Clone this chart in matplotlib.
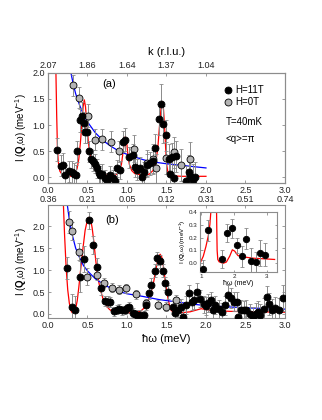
import matplotlib
matplotlib.use("Agg")
import matplotlib.pyplot as plt
from matplotlib.lines import Line2D

plt.rcParams["font.family"] = ["Liberation Sans", "DejaVu Sans"]
plt.rcParams["mathtext.fontset"] = "custom"
plt.rcParams["mathtext.rm"] = "Liberation Sans"
plt.rcParams["mathtext.bf"] = "Liberation Sans:bold"
plt.rcParams["axes.edgecolor"] = "#8c8c8c"
plt.rcParams["axes.linewidth"] = 0.8

# ---------- panel (a) ----------
a11_x = [0.12, 0.16, 0.19, 0.22, 0.27, 0.30, 0.33, 0.35, 0.37, 0.40, 0.43, 0.45, 0.47, 0.50,
         0.52, 0.55, 0.57, 0.60, 0.62, 0.64, 0.66, 0.69, 0.72, 0.75, 0.79, 0.82, 0.85, 0.88,
         0.91, 0.95, 0.98, 1.03, 1.07, 1.10, 1.13, 1.16, 1.19, 1.22, 1.25, 1.29, 1.33, 1.36,
         1.40, 1.43, 1.46, 1.49, 1.53, 1.54, 1.57, 1.59, 1.62, 1.75, 1.79, 1.80, 1.83, 1.86]
a11_y = [0.53, 0.22, 0.24, 0.04, 0.12, 0.10, 0.07, 0.05, 0.50, 1.09, 1.18, 1.03, 0.87, 0.87,
         0.50, 0.36, 0.32, 0.26, 0.17, 0.08, 0.04, 0.07, -0.02, -0.07, 0.04, -0.02, -0.07, 0.17,
         0.14, 0.68, 0.72, 0.38, 0.42, 0.20, 0.15, 0.18, 0.00, 0.10, 0.23, 0.27, 0.31, 0.57,
         1.11, 1.40, 1.01, 0.80, 0.36, 0.06, 0.38, -0.02, 0.40, -0.07, 0.10, 0.02, -0.05, 0.01]
a11_e = [0.22, 0.20, 0.22, 0.20, 0.20, 0.22, 0.20, 0.18, 0.20, 0.22, 0.25, 0.22, 0.22, 0.22,
         0.20, 0.18, 0.20, 0.18, 0.18, 0.18, 0.17, 0.18, 0.16, 0.16, 0.17, 0.16, 0.16, 0.17,
         0.18, 0.20, 0.22, 0.20, 0.22, 0.20, 0.20, 0.20, 0.18, 0.20, 0.22, 0.22, 0.22, 0.25,
         0.30, 0.38, 0.35, 0.30, 0.28, 0.25, 0.28, 0.25, 0.30, 0.28, 0.32, 0.30, 0.30, 0.28]

a0_x = [0.32, 0.39, 0.51, 0.60, 0.69, 0.80, 0.90, 1.09, 1.25, 1.33, 1.37, 1.50, 1.59, 1.69, 1.80]
a0_y = [1.76, 1.52, 1.18, 0.72, 0.73, 0.68, 0.50, 0.55, 0.27, 0.35, 0.17, 0.37, 0.48, 0.24, 0.36]
a0_e = [0.20, 0.20, 0.22, 0.20, 0.20, 0.20, 0.20, 0.25, 0.25, 0.28, 0.28, 0.30, 0.30, 0.30, 0.32]

a_red_x = [0.100, 0.110, 0.120, 0.130, 0.150, 0.180, 0.230, 0.280, 0.320, 0.350, 0.370, 0.390,
           0.410, 0.430, 0.445, 0.460, 0.475, 0.490, 0.510, 0.530, 0.560, 0.600, 0.650, 0.700,
           0.800, 0.860, 0.900, 0.930, 0.950, 0.970, 0.980, 0.995, 1.010, 1.030, 1.060, 1.100,
           1.200, 1.280, 1.330, 1.360, 1.390, 1.410, 1.430, 1.445, 1.460, 1.475, 1.490, 1.505,
           1.520, 1.550, 1.700, 2.000]
a_red_y = [2.05, 1.20, 0.55, 0.30, 0.12, 0.05, 0.03, 0.02, 0.04, 0.09, 0.18, 0.35,
           0.65, 1.05, 1.35, 1.48, 1.35, 1.05, 0.70, 0.45, 0.27, 0.15, 0.08, 0.05,
           0.03, 0.05, 0.10, 0.25, 0.48, 0.72, 0.78, 0.70, 0.45, 0.25, 0.13, 0.07,
           0.04, 0.06, 0.13, 0.25, 0.55, 0.95, 1.30, 1.45, 1.35, 1.00, 0.55, 0.22,
           0.08, 0.03, 0.02, 0.02]

a_blue_x = [0.29, 0.32, 0.35, 0.40, 0.45, 0.50, 0.60, 0.70, 0.80, 0.90, 1.00, 1.10, 1.20,
            1.30, 1.50, 1.75, 2.00]
a_blue_y = [2.00, 1.78, 1.60, 1.38, 1.20, 1.06, 0.85, 0.70, 0.59, 0.50, 0.44, 0.39, 0.34,
            0.30, 0.26, 0.22, 0.18]

# ---------- panel (b) ----------
b11_x = [0.24, 0.30, 0.34, 0.40, 0.46, 0.52, 0.57, 0.62, 0.67, 0.72, 0.76, 0.78, 0.83, 0.87,
         0.90, 0.94, 0.97, 1.00, 1.02, 1.07, 1.10, 1.13, 1.17, 1.21, 1.24, 1.28, 1.31, 1.35,
         1.38, 1.42, 1.46, 1.48, 1.52, 1.58, 1.61, 1.65, 1.69, 1.71, 1.75, 1.79, 1.82, 1.85,
         1.89, 1.92, 1.97, 2.00, 2.03, 2.06, 2.09, 2.11, 2.16, 2.20, 2.24, 2.28, 2.32, 2.35,
         2.39, 2.41, 2.44, 2.48, 2.51, 2.56, 2.59, 2.63, 2.66, 2.69, 2.74, 2.77, 2.80, 2.84,
         2.87, 2.92, 2.98]
b11_y = [1.04, 0.16, 0.10, 0.85, 1.25, 2.13, 1.57, 1.08, 0.58, 0.30, 0.28, 0.27, 0.06, 0.10,
         0.12, 0.08, 0.09, 0.13, 0.17, 0.03, 0.00, -0.02, -0.02, -0.03, 0.20, 0.48, 0.66, 0.98,
         1.27, 1.20, 0.98, 0.70, 0.50, 0.15, 0.02, 0.09, 0.15, -0.06, 0.20, 0.47, 0.28, 0.31,
         0.51, 0.35, 0.22, 0.18, 0.25, 0.31, 0.08, 0.20, 0.12, 0.05, 0.20, 0.43, 0.36, 0.28,
         0.28, -0.06, 0.10, 0.08, 0.09, 0.00, -0.06, 0.00, 0.05, -0.02, 0.12, 0.39, 0.23, 0.10,
         0.14, 0.09, 0.36]
b11_e = [0.25, 0.30, 0.30, 0.35, 0.30, 0.20, 0.20, 0.20, 0.15, 0.12, 0.12, 0.12, 0.10, 0.10,
         0.10, 0.10, 0.10, 0.10, 0.10, 0.10, 0.10, 0.10, 0.10, 0.10, 0.12, 0.15, 0.15, 0.15,
         0.15, 0.15, 0.15, 0.15, 0.15, 0.15, 0.15, 0.15, 0.18, 0.15, 0.20, 0.20, 0.20, 0.20,
         0.20, 0.20, 0.20, 0.20, 0.20, 0.20, 0.20, 0.20, 0.20, 0.20, 0.22, 0.22, 0.22, 0.22,
         0.22, 0.22, 0.22, 0.22, 0.22, 0.22, 0.22, 0.25, 0.25, 0.25, 0.25, 0.25, 0.25, 0.25,
         0.25, 0.28, 0.30]

b0_x = [0.27, 0.31, 0.39, 0.50, 0.62, 0.71, 0.81, 0.90, 0.99, 1.11, 1.24, 1.39, 1.50, 1.62]
b0_y = [2.10, 1.89, 1.42, 0.85, 0.89, 0.71, 0.60, 0.55, 0.58, 0.45, 0.24, 0.21, 0.17, 0.32]
b0_e = [0.25, 0.20, 0.20, 0.20, 0.12, 0.10, 0.10, 0.10, 0.10, 0.10, 0.10, 0.10, 0.10, 0.12]

b_red_x = [0.195, 0.21, 0.23, 0.25, 0.27, 0.29, 0.31, 0.33, 0.35, 0.37, 0.39, 0.41, 0.44,
           0.47, 0.50, 0.52, 0.54, 0.56, 0.58, 0.60, 0.62, 0.64, 0.66, 0.70, 0.74, 0.78,
           0.83, 0.90, 1.00, 1.10, 1.17, 1.22, 1.26, 1.30, 1.34, 1.37, 1.40, 1.42, 1.44,
           1.46, 1.48, 1.50, 1.52, 1.54, 1.56, 1.60, 1.70, 1.80, 1.88, 1.94, 2.00, 2.10,
           2.30, 2.60, 3.00]
b_red_y = [2.50, 1.80, 1.05, 0.55, 0.25, 0.08, 0.02, 0.03, 0.12, 0.30, 0.60, 0.95, 1.45,
           1.90, 2.15, 2.20, 2.15, 1.95, 1.65, 1.30, 0.97, 0.75, 0.58, 0.32, 0.18, 0.10,
           0.05, 0.03, 0.02, 0.03, 0.06, 0.14, 0.27, 0.45, 0.75, 1.05, 1.30, 1.36, 1.30,
           1.10, 0.82, 0.55, 0.35, 0.18, 0.08, 0.03, 0.03, 0.05, 0.09, 0.12, 0.10, 0.08,
           0.06, 0.05, 0.04]

b_blue_x = [0.245, 0.27, 0.30, 0.35, 0.40, 0.45, 0.50, 0.60, 0.70, 0.80, 0.90, 1.00, 1.20,
            1.40, 1.60, 1.80, 2.00, 2.50, 3.00]
b_blue_y = [2.48, 2.15, 1.85, 1.50, 1.28, 1.10, 0.98, 0.80, 0.68, 0.58, 0.51, 0.46, 0.40,
            0.33, 0.28, 0.23, 0.19, 0.14, 0.11]

# ---------- inset ----------
in_x = [1.05, 1.22, 1.64, 1.79, 1.94, 2.08, 2.23, 2.36, 2.51, 2.66, 2.80, 2.95]
in_y = [-0.045, 0.255, 0.036, 0.236, 0.27, 0.14, 0.055, 0.19, 0.02, 0.008, 0.08, 0.068]
in_e = [0.07, 0.08, 0.07, 0.07, 0.07, 0.06, 0.08, 0.08, 0.10, 0.08, 0.10, 0.09]

in_red_x = [0.99, 1.07, 1.15, 1.22, 1.27, 1.30, 1.31, None,
            1.47, 1.48, 1.49, 1.51, 1.55, 1.67, 1.77, 1.87, 1.95, 2.02, 2.12, 2.28, 2.58,
            2.98, 3.23]
in_red_y = [0.01, 0.055, 0.13, 0.21, 0.30, 0.40, 0.45, None,
            0.45, 0.25, 0.10, 0.03, 0.012, 0.0, 0.01, 0.055, 0.105, 0.095, 0.06, 0.05, 0.04,
            0.034, 0.03]

top_k_pos = [0.0, 0.5, 1.0, 1.5, 2.0]
top_k_lab = ["2.07", "1.86", "1.64", "1.37", "1.04"]
x_ticks = [0.0, 0.5, 1.0, 1.5, 2.0, 2.5, 3.0]
q_lab = ["0.36", "0.21", "0.05", "0.12", "0.31", "0.51", "0.74"]

ylab = r"I ($\mathbf{Q}$,ω) (meV$^{-1}$)"
ERR = "#8a8a8a"


def style(ax, fs=6.5):
    ax.tick_params(direction="in", top=True, right=True, length=2.5, width=0.6,
                   labelsize=fs, colors="#8c8c8c", labelcolor="#222222", pad=2)


def points(ax, x, y, e, face, ms=5.0):
    ax.errorbar(x, y, yerr=e, fmt="o", ms=ms, mfc=face, mec="black", mew=0.6,
                ecolor=ERR, elinewidth=0.7, capsize=1.6, capthick=0.7, zorder=3)


fig = plt.figure(figsize=(3.22, 4.2), dpi=100)

# panel (a)
ax1 = fig.add_axes([0.149, 0.564, 0.736, 0.263])
ax1.plot(a_red_x, a_red_y, color="red", lw=0.9, zorder=2)
ax1.plot(a_blue_x, a_blue_y, color="blue", lw=0.9, zorder=2)
points(ax1, a0_x, a0_y, a0_e, "#b4b4b4")
points(ax1, a11_x, a11_y, a11_e, "black")
ax1.set_xlim(0, 3.0)
ax1.set_ylim(-0.11, 2.0)
ax1.set_xticks(x_ticks)
ax1.set_xticklabels([f"{t:.1f}\n{q}" for t, q in zip(x_ticks, q_lab)], linespacing=0.95)
ax1.set_yticks([0.0, 0.5, 1.0, 1.5, 2.0])
ax1.set_ylabel(ylab, fontsize=7, labelpad=3)
style(ax1)
ax1.tick_params(top=False)
ax1.text(0.26, 0.9, "(a)", transform=ax1.transAxes, fontsize=8, ha="center", va="center")
ax1.text(0.75, 0.555, "T=40mK", transform=ax1.transAxes, fontsize=7, va="center")
ax1.text(0.75, 0.40, "<q>=π", transform=ax1.transAxes, fontsize=7, va="center")
handles = [Line2D([], [], ls="none", marker="o", ms=5.0, mfc="black", mec="black", mew=0.6),
           Line2D([], [], ls="none", marker="o", ms=5.0, mfc="#b4b4b4", mec="black", mew=0.6)]
ax1.legend(handles, ["H=11T", "H=0T"], loc="upper left", bbox_to_anchor=(0.71, 0.95),
           frameon=False, fontsize=7, handlelength=1.0, handletextpad=0.3,
           labelspacing=0.25, borderpad=0.2)

axk = ax1.twiny()
axk.set_xlim(0, 3.0)
axk.set_xticks(top_k_pos)
axk.set_xticklabels(top_k_lab)
axk.set_xlabel("k (r.l.u.)", fontsize=8, labelpad=4)
style(axk)
axk.tick_params(right=False)

# panel (b)
ax2 = fig.add_axes([0.149, 0.243, 0.736, 0.269])
ax2.plot(b_red_x, b_red_y, color="red", lw=0.9, zorder=2)
ax2.plot(b_blue_x, b_blue_y, color="blue", lw=0.9, zorder=2)
points(ax2, b0_x, b0_y, b0_e, "#b4b4b4")
points(ax2, b11_x, b11_y, b11_e, "black")
ax2.set_xlim(0, 3.0)
ax2.set_ylim(-0.09, 2.48)
ax2.set_xticks(x_ticks)
ax2.set_yticks([0.0, 0.5, 1.0, 1.5, 2.0])
ax2.set_ylabel(ylab, fontsize=7, labelpad=3)
ax2.set_xlabel("ħω (meV)", fontsize=8, labelpad=3)
style(ax2)
ax2.text(0.27, 0.87, "(b)", transform=ax2.transAxes, fontsize=8, ha="center", va="center")

# inset
axi = fig.add_axes([0.621, 0.353, 0.239, 0.143])
axi.plot(in_red_x, in_red_y, color="red", lw=0.9, zorder=2)
points(axi, in_x, in_y, in_e, "black", ms=4.6)
axi.set_xlim(0.97, 3.3)
axi.set_ylim(-0.065, 0.4)
axi.set_xticks([1, 2, 3])
axi.set_yticks([0.0, 0.1, 0.2, 0.3, 0.4])
style(axi, fs=4.5)
axi.tick_params(length=1.8, pad=1.5)
axi.set_xlabel("ħω (meV)", fontsize=5, labelpad=1)
axi.set_ylabel(ylab, fontsize=4.5, labelpad=1)

fig.savefig("out.png", dpi=100)
